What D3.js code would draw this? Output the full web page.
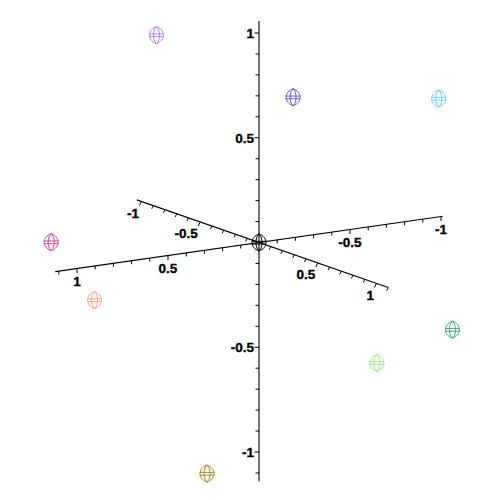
<!DOCTYPE html>
<html><head><meta charset="utf-8">
<script src="https://cdn.jsdelivr.net/npm/d3@7"></script>
<style>body{margin:0;background:#fff}svg{display:block}</style>
</head><body>
<script>
// data (A = axis running upper-left -> lower-right, B = axis running right -> lower-left, Z = vertical)
const ptA = [-0.253, 0.29, 0.6, -0.483, 0.01, 0, 0.5, 0.6, 0.1];
const ptB = [0.4, 0, -0.6, 0.83, 0.91, 0, -0.74, -0.26, 0.35];
const ptZ = [0.99, 0.75, 0.73, 0.01, -0.16, 0, -0.41, -0.49, -1.04];
const ptColor = ["#b880f8","#5a5ad8","#60d4f0","#cc44a0","#f8a484","#000000","#3ca878","#98f07c","#b08828"];
const tickLabelsA = [-1, -0.5, 0.5, 1];
const tickLabelsB = [-1, -0.5, 0.5, 1];
const tickLabelsZ = [-1, -0.5, 0.5, 1];
const extentA = [-1.04, 1.1];
const extentB = [-1.01, 1.12];
const extentZ = [-1.14, 1.057];

const svg = d3.select("body").append("svg").attr("width",500).attr("height",500);
const origin = [259, 242.5];
const vecA = [117.5, 41], vecB = [-182, 26], vecZ = [0, -209.5];
function mk(v){const L=Math.hypot(v[0],v[1]);return {u:[v[0]/L,v[1]/L], s:d3.scaleLinear().domain([0,1]).range([0,L])};}
const axA = mk(vecA), axB = mk(vecB), axZ = mk(vecZ);
function along(ax, t){const d=ax.s(t);return [ax.u[0]*d, ax.u[1]*d];}
function project(a,b,z){
  const pa=along(axA,a), pb=along(axB,b), pz=along(axZ,z);
  return [origin[0]+pa[0]+pb[0]+pz[0], origin[1]+pa[1]+pb[1]+pz[1]];
}
const g = svg.append("g");
function drawAxis(ax, ext, tickDir, labels, labelFn){
  const p0=along(ax,ext[0]), p1=along(ax,ext[1]);
  g.append("line").attr("x1",origin[0]+p0[0]).attr("y1",origin[1]+p0[1])
   .attr("x2",origin[0]+p1[0]).attr("y2",origin[1]+p1[1])
   .attr("stroke","#000").attr("stroke-width",1.1);
  const ticks = d3.range(-11,12).map(i=>i/10).filter(t=>t>=ext[0]-1e-9&&t<=ext[1]+1e-9&&Math.abs(t)>1e-9);
  ticks.forEach(t=>{
    const p=along(ax,t);
    const major = Math.abs(t*2-Math.round(t*2))<1e-9;
    const len = major?4.5:3.5;
    const x=origin[0]+p[0], y=origin[1]+p[1];
    g.append("line").attr("x1",x).attr("y1",y).attr("x2",x+tickDir[0]*len).attr("y2",y+tickDir[1]*len)
      .attr("stroke","#000").attr("stroke-width",1);
  });
  labels.forEach(t=>{
    const p=along(ax,t);
    labelFn(origin[0]+p[0], origin[1]+p[1], t);
  });
}
function fmt(t){return String(t);}
const font = {"font-family":"'Liberation Sans', Arial, sans-serif","font-weight":"bold","font-size":"13.5px","stroke":"#000","stroke-width":"0.35"};
function txt(x,y,s,anchor){
  const e=g.append("text").attr("x",x).attr("y",y).attr("text-anchor",anchor).text(s);
  Object.entries(font).forEach(([k,v])=>e.attr(k,v));
}
drawAxis(axZ, extentZ, [-1,0], tickLabelsZ, (x,y,t)=>txt(x-5,y+5,fmt(t),"end"));
drawAxis(axA, extentA, [-0.45,0.9], tickLabelsA, (x,y,t)=>txt(x-2.5,y+16,fmt(t),"end"));
drawAxis(axB, extentB, [0,1], tickLabelsB, (x,y,t)=>txt(x,y+17,fmt(t),"middle"));

// markers
function marker(cx,cy,col){
  const m=g.append("g").attr("transform",`translate(${cx},${cy})`).attr("fill","none").attr("stroke",col).attr("stroke-width",1);
  m.append("path").attr("d","M0,-8.5 C4.5,-7 7,-3.5 7,0 C7,3.5 4.5,7 0,8.5 C-4.5,7 -7,3.5 -7,0 C-7,-3.5 -4.5,-7 0,-8.5 Z");
  m.append("path").attr("d","M0,-8.5 C2.5,-6 3,-3 3,0 C3,3 2.5,6 0,8.5 C-2.5,6 -3,3 -3,0 C-3,-3 -2.5,-6 0,-8.5 Z");
  m.append("line").attr("x1",-7.5).attr("x2",7.5).attr("y1",-1.2).attr("y2",-1.2);
  m.append("line").attr("x1",-7.5).attr("x2",7.5).attr("y1",1.5).attr("y2",1.5);
}
ptA.forEach((a,i)=>{const p=project(a,ptB[i],ptZ[i]);marker(p[0],p[1],ptColor[i]);});
</script>
</body></html>
